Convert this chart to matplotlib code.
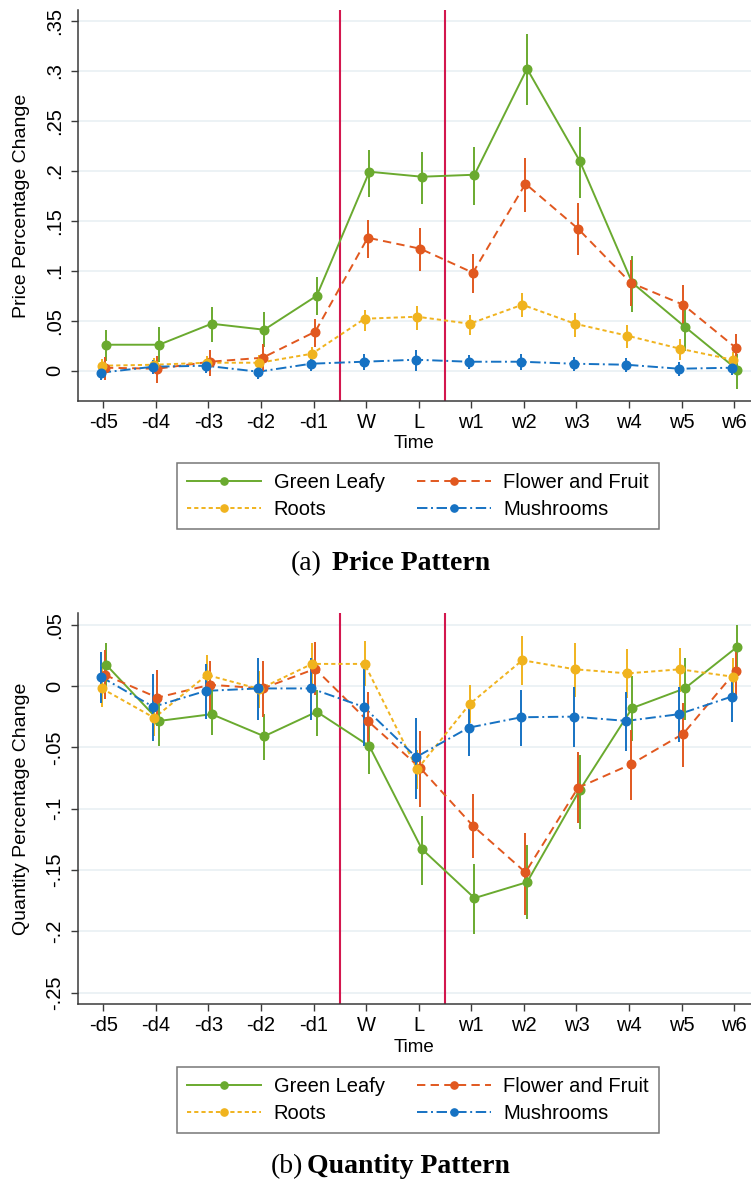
import matplotlib
matplotlib.use("Agg")
import matplotlib.pyplot as plt
import numpy as np
from matplotlib.lines import Line2D

# ---------------------------------------------------------------- data
periods = ['-d5', '-d4', '-d3', '-d2', '-d1', 'W', 'L',
           'w1', 'w2', 'w3', 'w4', 'w5', 'w6']

# Price pattern: point estimates and 95% CI bounds
green_p = [0.026, 0.026, 0.047, 0.041, 0.075, 0.199, 0.194, 0.196, 0.302, 0.210, 0.088, 0.044, 0.001]
green_p_lo = [0.010, 0.009, 0.029, 0.024, 0.056, 0.174, 0.167, 0.166, 0.266, 0.173, 0.059, 0.020, -0.018]
green_p_hi = [0.041, 0.044, 0.064, 0.059, 0.094, 0.221, 0.219, 0.224, 0.337, 0.244, 0.115, 0.064, 0.017]

flower_p = [0.003, 0.002, 0.009, 0.013, 0.039, 0.133, 0.122, 0.098, 0.187, 0.142, 0.088, 0.066, 0.023]
flower_p_lo = [-0.009, -0.012, -0.005, 0.000, 0.024, 0.113, 0.100, 0.078, 0.159, 0.116, 0.065, 0.046, 0.009]
flower_p_hi = [0.014, 0.015, 0.021, 0.027, 0.052, 0.151, 0.143, 0.117, 0.213, 0.168, 0.111, 0.086, 0.037]

roots_p = [0.005, 0.006, 0.008, 0.008, 0.017, 0.052, 0.054, 0.047, 0.066, 0.047, 0.035, 0.022, 0.011]
roots_p_lo = [-0.002, -0.001, 0.001, 0.000, 0.010, 0.040, 0.041, 0.036, 0.054, 0.034, 0.023, 0.011, 0.004]
roots_p_hi = [0.012, 0.013, 0.015, 0.016, 0.024, 0.061, 0.065, 0.056, 0.078, 0.058, 0.046, 0.032, 0.019]

mush_p = [-0.002, 0.004, 0.005, -0.001, 0.007, 0.009, 0.011, 0.009, 0.009, 0.007, 0.006, 0.002, 0.003]
mush_p_lo = [-0.009, -0.003, -0.002, -0.008, 0.000, 0.001, 0.000, 0.002, 0.001, 0.000, -0.001, -0.005, -0.004]
mush_p_hi = [0.005, 0.011, 0.012, 0.006, 0.014, 0.017, 0.021, 0.016, 0.017, 0.014, 0.013, 0.009, 0.010]

# Quantity pattern: point estimates and 95% CI bounds
green_q = [0.017, -0.0285, -0.023, -0.041, -0.021, -0.049, -0.133, -0.173, -0.160, -0.085, -0.018, -0.002, 0.032]
green_q_lo = [-0.002, -0.049, -0.040, -0.060, -0.041, -0.072, -0.162, -0.202, -0.190, -0.117, -0.045, -0.028, 0.013]
green_q_hi = [0.035, -0.011, -0.002, -0.023, -0.003, -0.030, -0.106, -0.145, -0.130, -0.056, 0.008, 0.023, 0.050]

flower_q = [0.009, -0.0095, 0.001, -0.002, 0.014, -0.0285, -0.067, -0.114, -0.152, -0.083, -0.064, -0.039, 0.012]
flower_q_lo = [-0.011, -0.033, -0.020, -0.025, -0.007, -0.052, -0.099, -0.140, -0.187, -0.112, -0.093, -0.066, -0.007]
flower_q_hi = [0.029, 0.013, 0.020, 0.020, 0.036, -0.005, -0.037, -0.088, -0.120, -0.054, -0.036, -0.014, 0.031]

roots_q = [-0.002, -0.026, 0.009, -0.0025, 0.018, 0.018, -0.068, -0.0147, 0.021, 0.0136, 0.0103, 0.0136, 0.0076]
roots_q_lo = [-0.017, -0.041, -0.007, -0.018, 0.001, 0.000, -0.084, -0.030, 0.001, -0.009, -0.010, -0.005, -0.006]
roots_q_hi = [0.016, -0.011, 0.025, 0.012, 0.035, 0.037, -0.052, 0.001, 0.041, 0.035, 0.030, 0.031, 0.023]

mush_q = [0.0076, -0.017, -0.004, -0.002, -0.002, -0.017, -0.058, -0.034, -0.0255, -0.025, -0.0285, -0.023, -0.0087]
mush_q_lo = [-0.014, -0.045, -0.027, -0.028, -0.028, -0.049, -0.092, -0.057, -0.049, -0.050, -0.053, -0.046, -0.029]
mush_q_hi = [0.028, 0.010, 0.018, 0.023, 0.023, 0.014, -0.026, -0.012, -0.003, -0.001, -0.005, -0.001, 0.010]

series_names = ['Green Leafy', 'Flower and Fruit', 'Roots', 'Mushrooms']

price_ticks = [0, 0.05, 0.10, 0.15, 0.20, 0.25, 0.30, 0.35]
price_ticklabels = ['0', '.05', '.1', '.15', '.2', '.25', '.3', '.35']
qty_ticks = [0.05, 0, -0.05, -0.10, -0.15, -0.20, -0.25]
qty_ticklabels = ['.05', '0', '-.05', '-.1', '-.15', '-.2', '-.25']

# ---------------------------------------------------------------- style
plt.rcParams['font.family'] = ['Liberation Sans', 'DejaVu Sans']
plt.rcParams['lines.scale_dashes'] = False

GREEN = '#6aaa2f'
ORANGE = '#e1581f'
YELLOW = '#f0b31e'
BLUE = '#1672c3'
VLINE = '#d3174e'
GRID = '#e7eff2'
AXIS = '#3a3a3a'

styles = {
    'Green Leafy': dict(color=GREEN, ls='-', dx=0.06),
    'Flower and Fruit': dict(color=ORANGE, ls=(0, (6.0, 3.8)), dx=0.03),
    'Roots': dict(color=YELLOW, ls=(0, (3.0, 2.2)), dx=-0.03),
    'Mushrooms': dict(color=BLUE, ls=(0, (7.5, 2.6, 1.4, 2.6)), dx=-0.05),
}

LW = 1.4
MS = 6.2
FS = 14.5

fig = plt.figure(figsize=(7.51, 11.80), dpi=100)

x = np.arange(len(periods))


def draw_panel(ax, data, ticks, ticklabels, ylim, ylabel):
    for name, (est, lo, hi) in data.items():
        st = styles[name]
        est = np.asarray(est)
        lo = np.asarray(lo)
        hi = np.asarray(hi)
        xs = x + st['dx']
        ax.plot(xs, est, color=st['color'], ls=st['ls'], lw=LW, zorder=3)
        ax.errorbar(xs, est, yerr=[est - lo, hi - est], fmt='o',
                    color=st['color'], ms=MS, elinewidth=LW, capsize=0,
                    zorder=4)
    for xv in (4.5, 6.5):
        ax.axvline(xv, color=VLINE, lw=1.5, zorder=2)
    ax.set_xlim(-0.487, 12.32)
    ax.set_ylim(*ylim)
    ax.set_xticks(x)
    ax.set_xticklabels(periods, fontsize=FS)
    ax.set_yticks(ticks)
    ax.set_yticklabels(ticklabels, fontsize=FS, rotation=90, va='center')
    ax.yaxis.grid(True, color=GRID, lw=1.1, zorder=0)
    ax.set_axisbelow(True)
    for side in ('top', 'right'):
        ax.spines[side].set_visible(False)
    for side in ('left', 'bottom'):
        ax.spines[side].set_color(AXIS)
        ax.spines[side].set_linewidth(1.1)
    ax.tick_params(axis='both', direction='out', length=5, width=1.0,
                   color=AXIS, pad=3.5)
    ax.tick_params(axis='y', pad=5)
    ax.set_xlabel('Time', fontsize=13.5, labelpad=2.5)
    ax.set_ylabel(ylabel, fontsize=14, labelpad=11)


def add_legend(yc):
    handles = []
    for name in ['Green Leafy', 'Roots', 'Flower and Fruit', 'Mushrooms']:
        st = styles[name]
        handles.append(Line2D([], [], color=st['color'], ls=st['ls'], lw=LW,
                              marker='o', ms=5.2, label=name))
    leg = fig.legend(handles=handles, ncol=2, loc='center',
                     bbox_to_anchor=(0.5566, yc), fontsize=FS,
                     frameon=True, fancybox=False, edgecolor='#555555',
                     handlelength=3.7, handletextpad=0.6, columnspacing=1.6,
                     labelspacing=0.4, borderpad=0.5, numpoints=1)
    leg.get_frame().set_linewidth(1.1)


# Price panel
ax1 = fig.add_axes([0.1035, 0.6604, 0.8965, 0.3311])
draw_panel(ax1,
           {'Green Leafy': (green_p, green_p_lo, green_p_hi),
            'Flower and Fruit': (flower_p, flower_p_lo, flower_p_hi),
            'Roots': (roots_p, roots_p_lo, roots_p_hi),
            'Mushrooms': (mush_p, mush_p_lo, mush_p_hi)},
           price_ticks, price_ticklabels, (-0.030, 0.3607),
           'Price Percentage Change')
add_legend(0.5797)
fig.text(0.387, 1 - 570 / 1180, '(a)', fontsize=20, family='Liberation Serif',
         ha='left', va='baseline')
fig.text(0.4417, 1 - 570 / 1180, 'Price Pattern', fontsize=20,
         family='Liberation Serif', weight='bold', ha='left', va='baseline')

# Quantity panel
ax2 = fig.add_axes([0.1035, 0.1489, 0.8965, 0.3319])
draw_panel(ax2,
           {'Green Leafy': (green_q, green_q_lo, green_q_hi),
            'Flower and Fruit': (flower_q, flower_q_lo, flower_q_hi),
            'Roots': (roots_q, roots_q_lo, roots_q_hi),
            'Mushrooms': (mush_q, mush_q_lo, mush_q_hi)},
           qty_ticks, qty_ticklabels, (-0.2596, 0.0598),
           'Quantity Percentage Change')
add_legend(0.0678)
fig.text(0.3604, 1 - 1173 / 1180, '(b)', fontsize=20, family='Liberation Serif',
         ha='left', va='baseline')
fig.text(0.4084, 1 - 1173 / 1180, 'Quantity Pattern', fontsize=20,
         family='Liberation Serif', weight='bold', ha='left', va='baseline')

fig.savefig('out.png', dpi=100)
